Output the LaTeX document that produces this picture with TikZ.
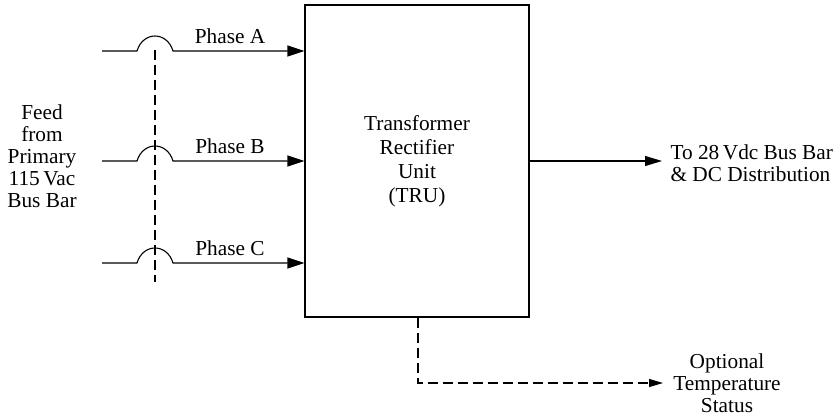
\documentclass[tikz,border=0pt]{standalone}
\usepackage{fontspec}
\setmainfont{Liberation Serif}
\usetikzlibrary{arrows.meta}
\begin{document}
\begin{tikzpicture}[x=1pt,y=-1pt,
  line width=1.1pt,
  lbl/.style={font=\fontsize{21.3}{22}\selectfont, inner sep=0pt, align=center},
  feed/.style={-{Triangle[length=17pt,width=11pt]}},
  dashln/.style={dash pattern=on 10pt off 5pt},
  tru/.style={draw, rectangle, minimum width=224pt, minimum height=312pt, inner sep=0pt,
    font=\fontsize{21.3}{24}\selectfont, align=center}]
\useasboundingbox (0,0) rectangle (839,417);
\node[tru] (box) at (417,161) {Transformer\\Rectifier\\Unit\\(TRU)};
\node[lbl] (feedtxt) at (42,156) {Feed\\from\\Primary\\115\,Vac\\Bus Bar};
% phase lines
\foreach \n/\y/\t in {A/51/Phase A, B/161/Phase B, C/263/Phase C}{
  \coordinate (s\n) at (102,\y);
  \coordinate (e\n) at (box.west |- 0,\y);
  \draw[feed] (s\n) -- (137,\y) .. controls (143,\y-20) and (167,\y-20) .. (173,\y) -- (e\n);
  \node[lbl] (l\n) at (230,\y-15) {\t};
}
\coordinate (dtop) at (155,50);
\coordinate (dbot) at (155,282);
\draw[dashln] (dtop) -- (dbot);
% output
\coordinate (outend) at (662,161);
\draw[-{Triangle[length=17pt,width=10pt]}] (box.east |- outend) -- (outend);
\node[lbl, anchor=west, align=left] (outtxt) at (670,163) {To 28\,Vdc Bus Bar\\\& DC Distribution};
% temperature
\coordinate (tstart) at (418,317);
\coordinate (tend) at (663,383);
\draw[dashln, -{Triangle[length=14pt,width=8pt]}] (box.south -| tstart) |- (tend);
\node[lbl] (temptxt) at (727,383) {Optional\\Temperature\\Status};
\end{tikzpicture}
\end{document}
